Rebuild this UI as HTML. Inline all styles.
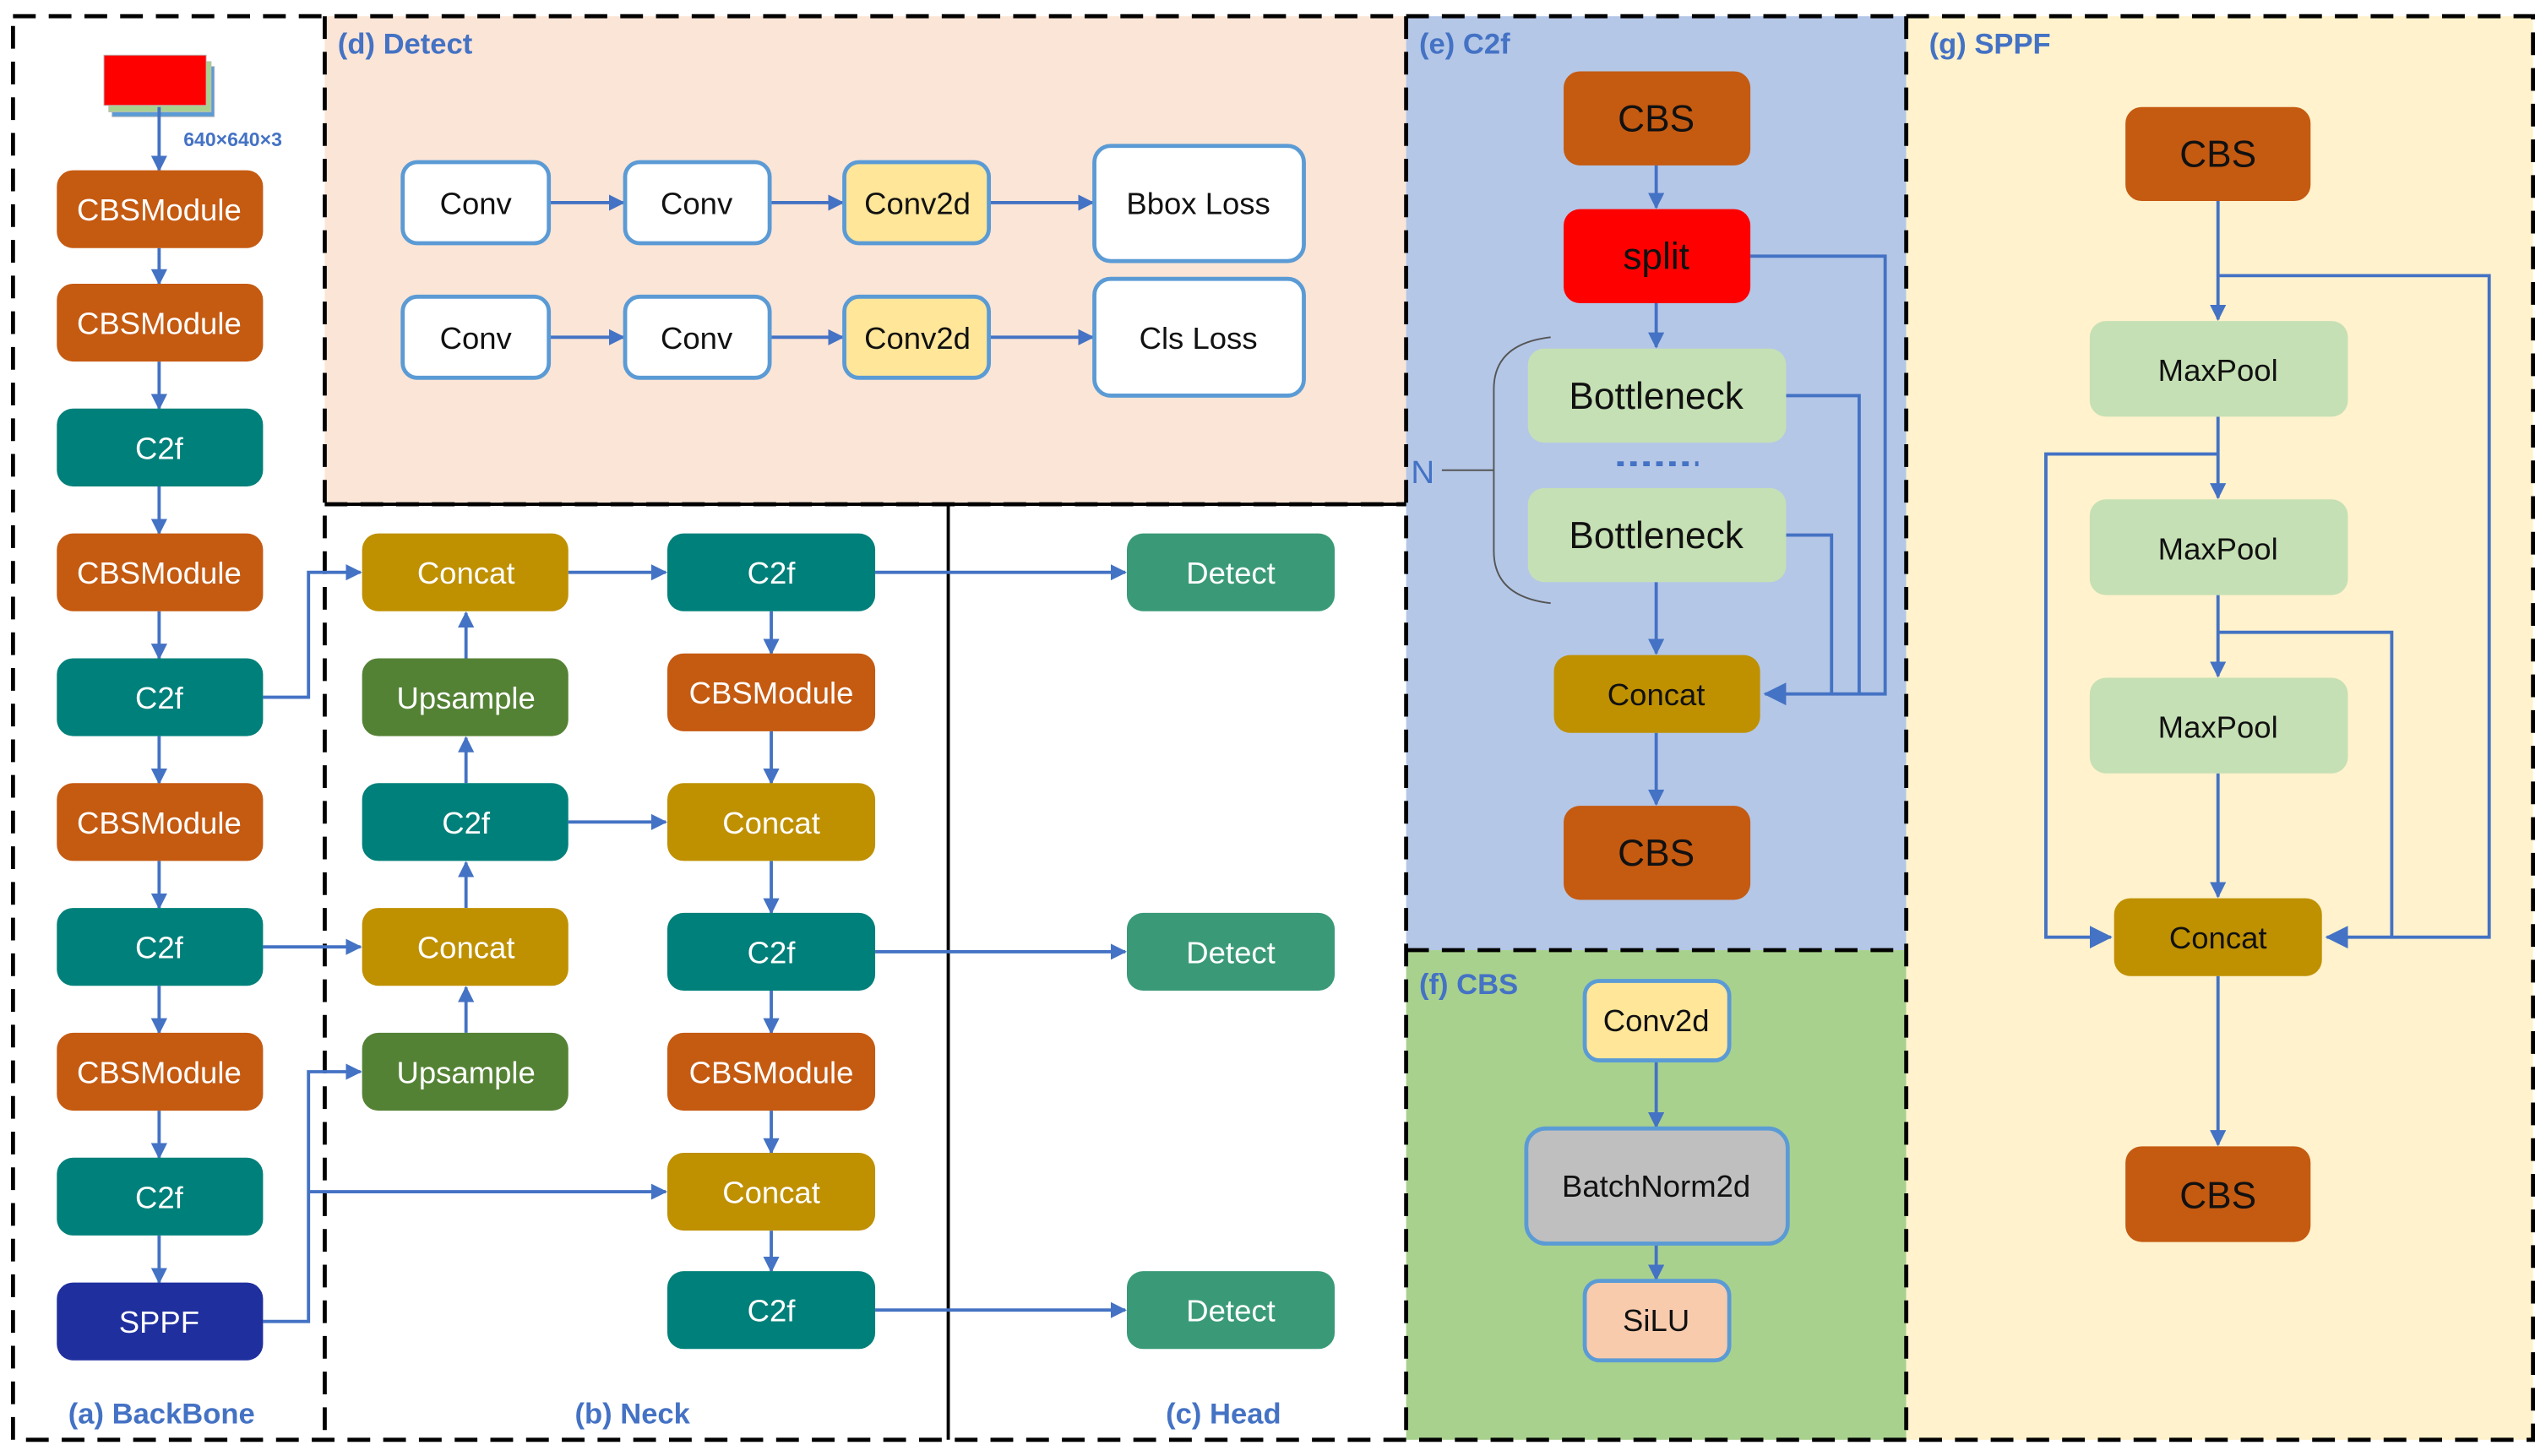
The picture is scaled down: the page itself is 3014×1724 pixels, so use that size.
<!DOCTYPE html>
<html><head><meta charset="utf-8"><style>
html,body{margin:0;padding:0;background:#fff;}
svg{display:block;}
text{font-family:"Liberation Sans","DejaVu Sans",sans-serif;}
</style></head><body>
<svg width="3014" height="1724" viewBox="0 0 1568 898" preserveAspectRatio="none" xmlns="http://www.w3.org/2000/svg">
<defs>
<marker id="a" markerWidth="10" markerHeight="10" refX="9" refY="5" orient="auto" markerUnits="userSpaceOnUse"><path d="M0,0 L10,5 L0,10 z" fill="#4472c4"/></marker>
<marker id="b" markerWidth="14" markerHeight="14" refX="13" refY="7" orient="auto" markerUnits="userSpaceOnUse"><path d="M0,0 L14,7 L0,14 z" fill="#4472c4"/></marker>
</defs>
<!-- panel backgrounds -->
<rect x="200" y="10" width="666" height="301" fill="#fbe5d6"/>
<rect x="866" y="10" width="308" height="576" fill="#b4c7e7"/>
<rect x="866" y="586" width="308" height="302" fill="#a9d18e"/>
<rect x="1174" y="10" width="386" height="878" fill="#fff2cc"/>
<!-- borders -->
<g stroke="#000" stroke-width="2.5" fill="none" stroke-dasharray="14,8">
<rect x="8" y="10" width="1552" height="878"/>
<line x1="200" y1="10" x2="200" y2="888"/>
<line x1="200" y1="311" x2="866" y2="311"/>
<line x1="866" y1="10" x2="866" y2="888"/>
<line x1="866" y1="586" x2="1174" y2="586"/>
<line x1="1174" y1="10" x2="1174" y2="888"/>
</g>
<line x1="584" y1="311" x2="584" y2="888" stroke="#000" stroke-width="2"/>
<line x1="200" y1="311" x2="866" y2="311" stroke="#000" stroke-width="2"/>
<!-- input image -->
<rect x="69" y="41" width="63" height="31" fill="#5b9bd5" stroke="#bbb" stroke-width="0.5"/>
<rect x="67" y="38" width="63" height="31" fill="#a9d18e" stroke="#bbb" stroke-width="0.5"/>
<rect x="64" y="34" width="63" height="31" fill="#f00" stroke="#bbb" stroke-width="0.5"/>
<text x="113" y="90" font-size="12" font-weight="bold" fill="#4472c4">640×640×3</text>
<g stroke="#4472c4" stroke-width="2" fill="none" marker-end="url(#a)">
<line x1="98" y1="66" x2="98" y2="105"/>
<line x1="98" y1="153" x2="98" y2="175"/>
<line x1="98" y1="223" x2="98" y2="252"/>
<line x1="98" y1="300" x2="98" y2="329"/>
<line x1="98" y1="377" x2="98" y2="406"/>
<line x1="98" y1="454" x2="98" y2="483"/>
<line x1="98" y1="531" x2="98" y2="560"/>
<line x1="98" y1="608" x2="98" y2="637"/>
<line x1="98" y1="685" x2="98" y2="714"/>
<line x1="98" y1="762" x2="98" y2="791"/>
<polyline points="162,430 190,430 190,353 222,353"/>
<line x1="162" y1="584" x2="222" y2="584"/>
<polyline points="162,815 190,815 190,661 222,661"/>
<line x1="190" y1="735" x2="410" y2="735"/>
<line x1="287" y1="406" x2="287" y2="378"/>
<line x1="287" y1="483" x2="287" y2="455"/>
<line x1="287" y1="560" x2="287" y2="532"/>
<line x1="287" y1="637" x2="287" y2="609"/>
<line x1="350" y1="353" x2="410" y2="353"/>
<line x1="350" y1="507" x2="410" y2="507"/>
<line x1="475" y1="377" x2="475" y2="403"/>
<line x1="475" y1="451" x2="475" y2="483"/>
<line x1="475" y1="531" x2="475" y2="563"/>
<line x1="475" y1="611" x2="475" y2="637"/>
<line x1="475" y1="685" x2="475" y2="711"/>
<line x1="475" y1="759" x2="475" y2="784"/>
<line x1="539" y1="353" x2="693" y2="353"/>
<line x1="539" y1="587" x2="693" y2="587"/>
<line x1="539" y1="808" x2="693" y2="808"/>
<line x1="338" y1="125" x2="384" y2="125"/>
<line x1="474" y1="125" x2="519" y2="125"/>
<line x1="609" y1="125" x2="673" y2="125"/>
<line x1="338" y1="208" x2="384" y2="208"/>
<line x1="474" y1="208" x2="519" y2="208"/>
<line x1="609" y1="208" x2="673" y2="208"/>
<line x1="1020" y1="102" x2="1020" y2="128"/>
<line x1="1020" y1="187" x2="1020" y2="214"/>
<line x1="1020" y1="359" x2="1020" y2="403"/>
<line x1="1020" y1="452" x2="1020" y2="496"/>
<line x1="1020" y1="654" x2="1020" y2="695"/>
<line x1="1020" y1="767" x2="1020" y2="789"/>
<line x1="1366" y1="124" x2="1366" y2="197"/>
<line x1="1366" y1="257" x2="1366" y2="307"/>
<line x1="1366" y1="367" x2="1366" y2="417"/>
<line x1="1366" y1="477" x2="1366" y2="553"/>
<line x1="1366" y1="602" x2="1366" y2="706"/>
</g>
<g stroke="#4472c4" stroke-width="2" fill="none">
<polyline points="1078,158 1161,158 1161,428 1100,428"/>
<polyline points="1100,244 1145,244 1145,428"/>
<polyline points="1100,330 1128,330 1128,428"/>
<polyline points="1366,170 1533,170 1533,578 1445,578"/>
<polyline points="1366,280 1260,280 1260,578 1290,578"/>
<polyline points="1366,390 1473,390 1473,578"/>
</g>
<g stroke="#4472c4" stroke-width="2" fill="none">
<line x1="1100" y1="428" x2="1087" y2="428" marker-end="url(#b)"/>
<line x1="1445" y1="578" x2="1433" y2="578" marker-end="url(#b)"/>
<line x1="1290" y1="578" x2="1300" y2="578" marker-end="url(#b)"/>
</g>
<line x1="996" y1="286" x2="1046" y2="286" stroke="#4472c4" stroke-width="3" stroke-dasharray="4,4"/>
<path d="M955,208 Q920,212 920,240 L920,340 Q920,368 955,372" stroke="#555" stroke-width="1" fill="none"/>
<line x1="888" y1="290" x2="920" y2="290" stroke="#555" stroke-width="1"/>
<text x="869" y="298" font-size="20" fill="#4472c4">N</text>
<!-- nodes -->
<g font-size="19" text-anchor="middle" fill="#fff">
<g fill="#c55a11"><rect x="35" y="105" width="127" height="48" rx="10"/><rect x="35" y="175" width="127" height="48" rx="10"/><rect x="35" y="329" width="127" height="48" rx="10"/><rect x="35" y="483" width="127" height="48" rx="10"/><rect x="35" y="637" width="127" height="48" rx="10"/><rect x="411" y="403" width="128" height="48" rx="10"/><rect x="411" y="637" width="128" height="48" rx="10"/></g>
<g fill="#00807a"><rect x="35" y="252" width="127" height="48" rx="10"/><rect x="35" y="406" width="127" height="48" rx="10"/><rect x="35" y="560" width="127" height="48" rx="10"/><rect x="35" y="714" width="127" height="48" rx="10"/><rect x="223" y="483" width="127" height="48" rx="10"/><rect x="411" y="329" width="128" height="48" rx="10"/><rect x="411" y="563" width="128" height="48" rx="10"/><rect x="411" y="784" width="128" height="48" rx="10"/></g>
<rect x="35" y="791" width="127" height="48" rx="10" fill="#1f2f9e"/>
<g fill="#bf9000"><rect x="223" y="329" width="127" height="48" rx="10"/><rect x="223" y="560" width="127" height="48" rx="10"/><rect x="411" y="483" width="128" height="48" rx="10"/><rect x="411" y="711" width="128" height="48" rx="10"/><rect x="957" y="404" width="127" height="48" rx="10"/><rect x="1302" y="554" width="128" height="48" rx="10"/></g>
<g fill="#548235"><rect x="223" y="406" width="127" height="48" rx="10"/><rect x="223" y="637" width="127" height="48" rx="10"/></g>
<g fill="#3a9a78"><rect x="694" y="329" width="128" height="48" rx="10"/><rect x="694" y="563" width="128" height="48" rx="10"/><rect x="694" y="784" width="128" height="48" rx="10"/></g>
<g fill="#c55a11"><rect x="963" y="44" width="115" height="58" rx="10"/><rect x="963" y="497" width="115" height="58" rx="10"/><rect x="1309" y="66" width="114" height="58" rx="10"/><rect x="1309" y="707" width="114" height="59" rx="10"/></g>
<rect x="963" y="129" width="115" height="58" rx="10" fill="#f00"/>
<g fill="#c5e0b4"><rect x="941" y="215" width="159" height="58" rx="10"/><rect x="941" y="301" width="159" height="58" rx="10"/><rect x="1287" y="198" width="159" height="59" rx="10"/><rect x="1287" y="308" width="159" height="59" rx="10"/><rect x="1287" y="418" width="159" height="59" rx="10"/></g>
<g stroke="#5b9bd5" stroke-width="2.5"><rect x="248" y="100" width="90" height="50" rx="9" fill="#fff"/><rect x="385" y="100" width="89" height="50" rx="9" fill="#fff"/><rect x="520" y="100" width="89" height="50" rx="9" fill="#ffe699"/><rect x="674" y="90" width="129" height="71" rx="10" fill="#fff"/><rect x="248" y="183" width="90" height="50" rx="9" fill="#fff"/><rect x="385" y="183" width="89" height="50" rx="9" fill="#fff"/><rect x="520" y="183" width="89" height="50" rx="9" fill="#ffe699"/><rect x="674" y="172" width="129" height="72" rx="10" fill="#fff"/><rect x="976" y="605" width="89" height="49" rx="9" fill="#ffe699"/><rect x="940" y="696" width="161" height="71" rx="12" fill="#bfbfbf"/><rect x="976" y="790" width="89" height="49" rx="9" fill="#f8cbad"/></g>
<text x="98" y="136">CBSModule</text><text x="98" y="206">CBSModule</text><text x="98" y="283">C2f</text><text x="98" y="360">CBSModule</text><text x="98" y="437">C2f</text><text x="98" y="514">CBSModule</text><text x="98" y="591">C2f</text><text x="98" y="668">CBSModule</text><text x="98" y="745">C2f</text><text x="98" y="822">SPPF</text>
<text x="287" y="360">Concat</text><text x="287" y="437">Upsample</text><text x="287" y="514">C2f</text><text x="287" y="591">Concat</text><text x="287" y="668">Upsample</text>
<text x="475" y="360">C2f</text><text x="475" y="434">CBSModule</text><text x="475" y="514">Concat</text><text x="475" y="594">C2f</text><text x="475" y="668">CBSModule</text><text x="475" y="742">Concat</text><text x="475" y="815">C2f</text>
<text x="758" y="360">Detect</text><text x="758" y="594">Detect</text><text x="758" y="815">Detect</text>
<g fill="#111"><text x="293" y="132">Conv</text><text x="429" y="132">Conv</text><text x="565" y="132">Conv2d</text><text x="738" y="132">Bbox Loss</text><text x="293" y="215">Conv</text><text x="429" y="215">Conv</text><text x="565" y="215">Conv2d</text><text x="738" y="215">Cls Loss</text>
<text x="1020" y="636">Conv2d</text><text x="1020" y="738">BatchNorm2d</text><text x="1020" y="821">SiLU</text>
<text x="1020" y="81" font-size="23">CBS</text><text x="1020" y="166" font-size="23">split</text><text x="1020" y="252" font-size="23">Bottleneck</text><text x="1020" y="338" font-size="23">Bottleneck</text><text x="1020" y="435">Concat</text><text x="1020" y="534" font-size="23">CBS</text>
<text x="1366" y="103" font-size="23">CBS</text><text x="1366" y="235">MaxPool</text><text x="1366" y="345">MaxPool</text><text x="1366" y="455">MaxPool</text><text x="1366" y="585">Concat</text><text x="1366" y="745" font-size="23">CBS</text></g>
</g>
<g font-size="18" font-weight="bold" fill="#4472c4">
<text x="42" y="878">(a) BackBone</text><text x="354" y="878">(b) Neck</text><text x="718" y="878">(c) Head</text>
<text x="208" y="33">(d) Detect</text><text x="874" y="33">(e) C2f</text><text x="874" y="613">(f) CBS</text><text x="1188" y="33">(g) SPPF</text>
</g>
</svg>
</body></html>
